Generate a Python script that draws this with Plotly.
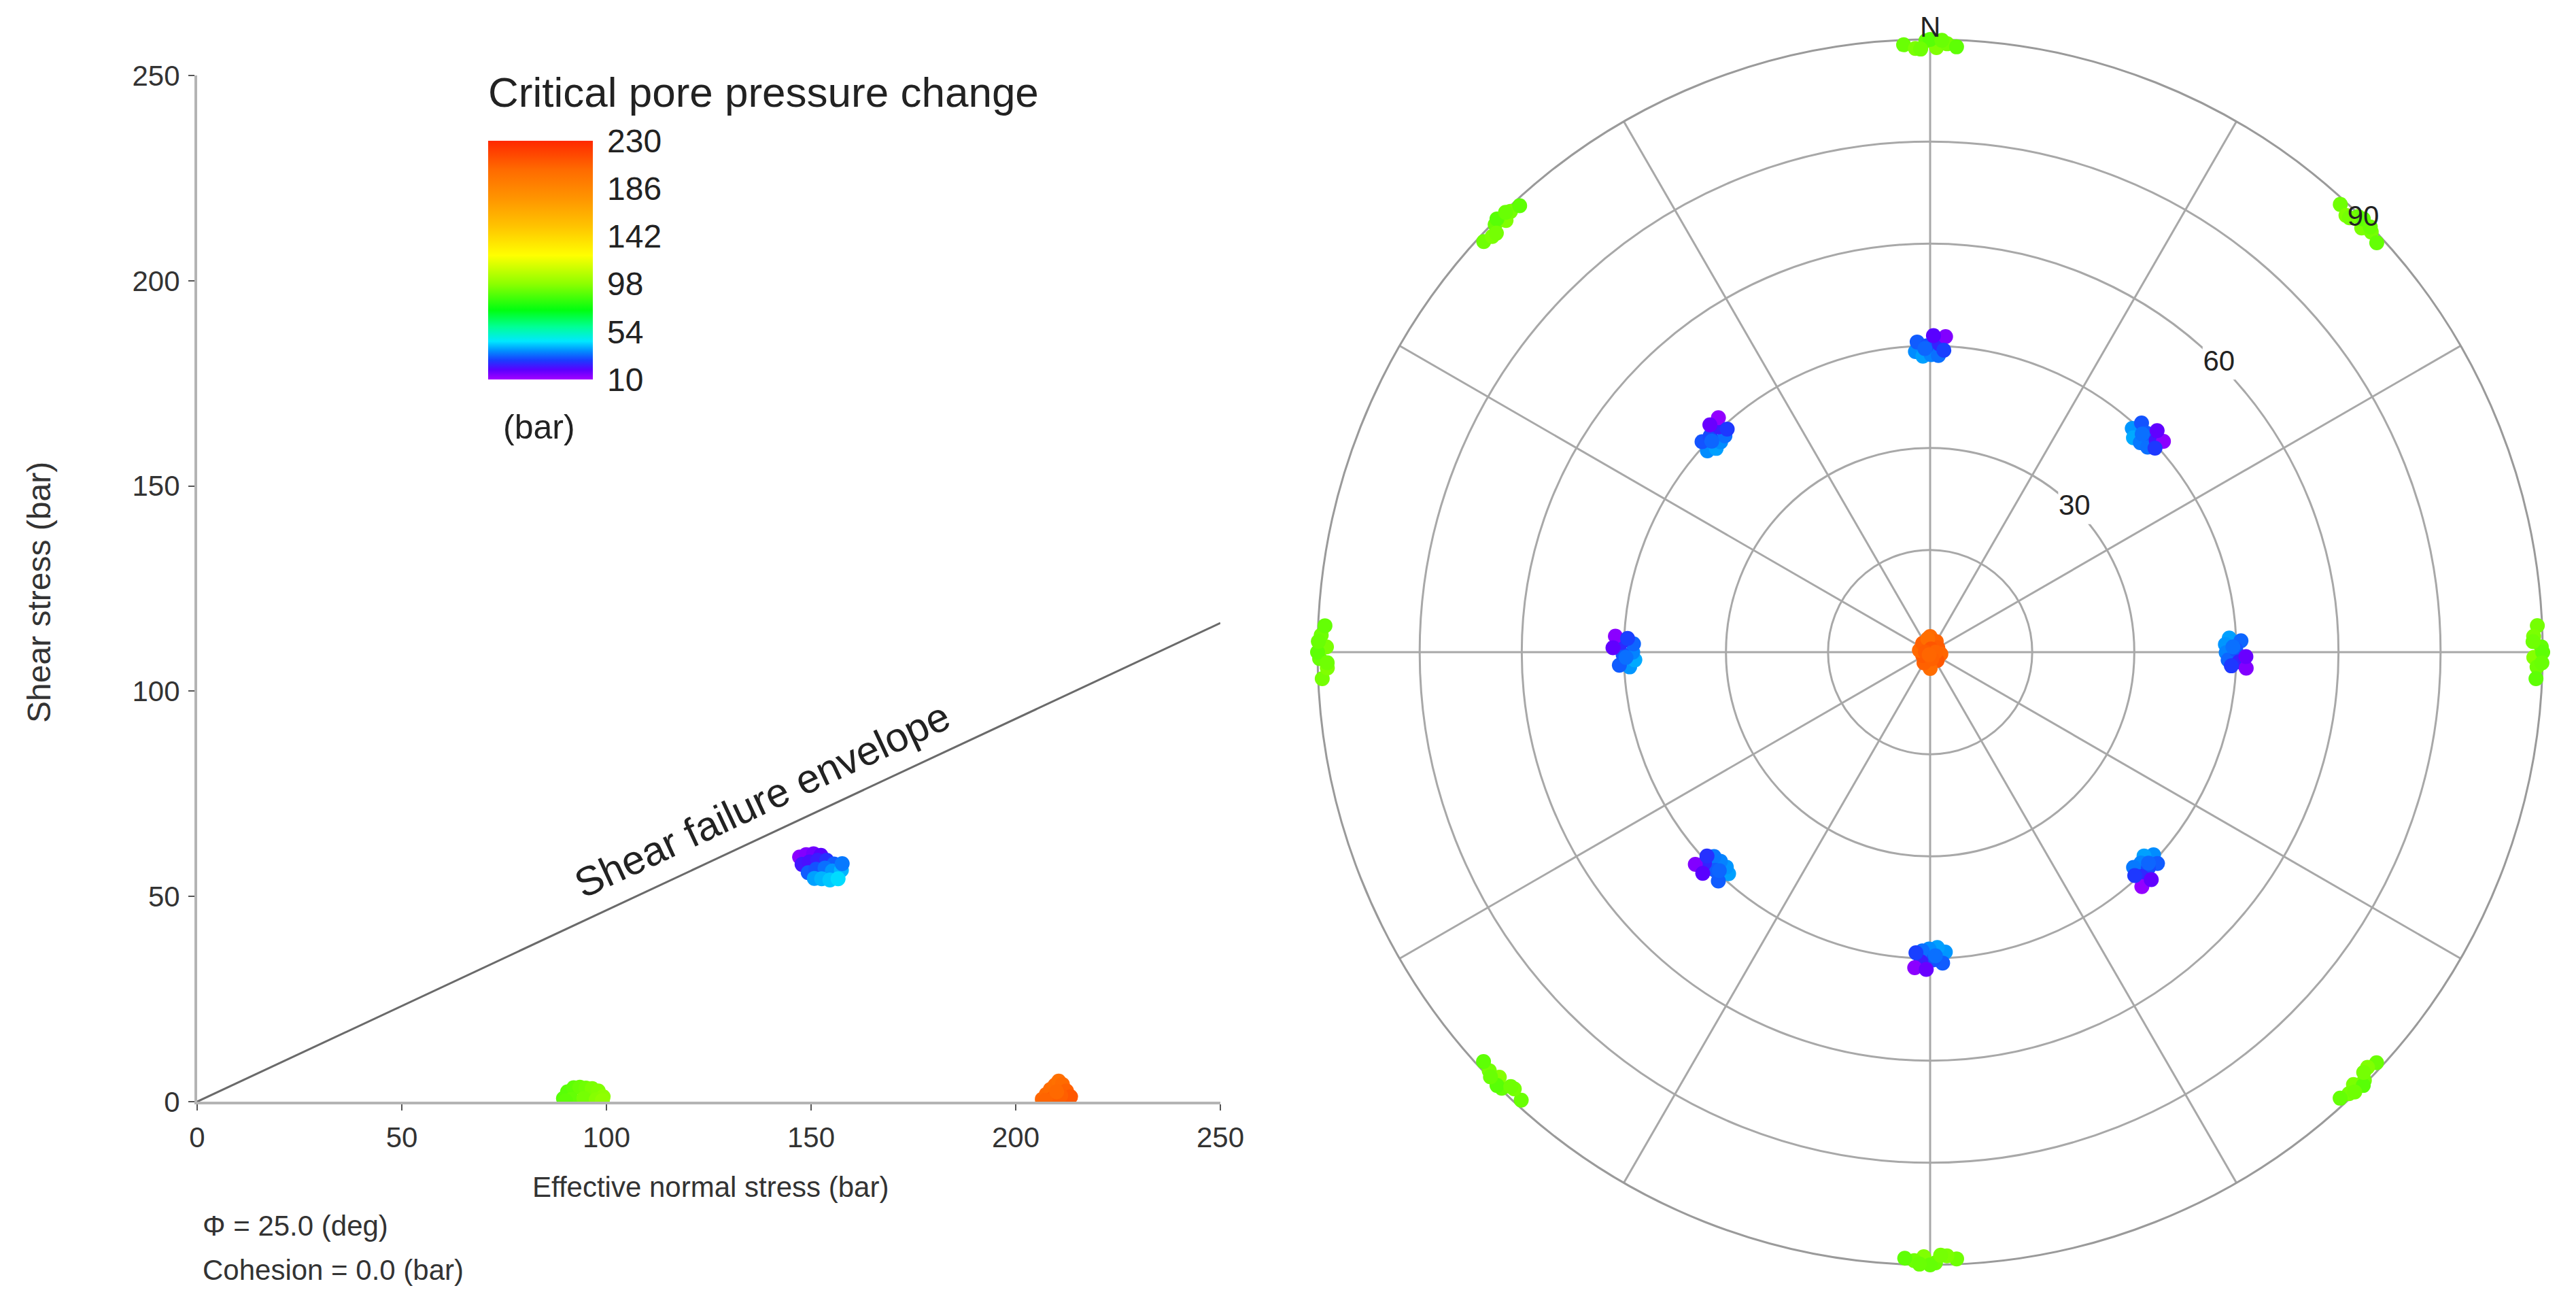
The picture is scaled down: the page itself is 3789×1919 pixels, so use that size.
import plotly.graph_objects as go

W, H = 3789, 1919
FONT = "Liberation Sans, Arial, sans-serif"

# ---------------- data ----------------
cbar_ticks = [10, 54, 98, 142, 186, 230]
x_ticks = [0, 50, 100, 150, 200, 250]
y_ticks = [0, 50, 100, 150, 200, 250]

envelope_x = [0, 250]
envelope_y = [0, 116.6]   # tan(25 deg) * 250

# Mohr diagram points (effective normal stress, shear stress, critical pore pressure change)
green_sn = [89.5, 90.5, 92.0, 93.5, 95.0, 96.5, 98.0, 99.2, 91.5, 94.5, 97.5, 99.0, 90.0]
green_tau = [0.8, 2.4, 3.4, 3.5, 3.3, 3.2, 2.6, 1.2, 0.6, 0.8, 0.5, 0.3, 0.2]
green_val = [89, 89, 90, 92, 93, 95, 96, 98, 91, 94, 97, 99, 90]

blue_sn = [147.2, 148.8, 150.6, 152.4, 147.8, 149.6, 151.6, 153.8, 155.6, 149.3,
           151.2, 153.4, 155.2, 157.4, 150.8, 152.6, 154.6, 156.6, 157.6]
blue_tau = [59.6, 60.2, 60.4, 60.0, 57.8, 58.4, 58.8, 58.8, 57.9, 55.8,
            56.6, 56.9, 56.2, 56.4, 54.4, 54.3, 54.0, 54.3, 58.0]
blue_val = [13, 14, 16, 19, 22, 21, 23, 26, 31, 31,
            30, 33, 37, 40, 38, 40, 42, 44, 34]

orange_sn = [206.5, 207.5, 208.5, 209.6, 210.5, 211.4, 212.4, 213.4, 209.0, 211.0, 207.2, 210.0]
orange_tau = [0.6, 1.8, 3.0, 4.0, 5.0, 4.2, 2.6, 1.2, 0.8, 1.5, 0.3, 2.4]
orange_val = [205, 204, 203, 202, 200, 203, 207, 211, 208, 208, 206, 204]

# Stereonet points (azimuth deg, dip deg, critical pore pressure change)
center_az = [0, 30, 60, 100, 140, 180, 210, 245, 280, 320, 350, 15, 90, 270, 165, 200]
center_dip = [2.3, 1.8, 1.3, 1.6, 1.6, 2.4, 1.8, 1.2, 1.6, 1.7, 2.0, 0.5, 0.8, 0.7, 1.0, 0.4]
center_val = [203, 206, 209, 205, 211, 202, 207, 210, 204, 208, 201, 212, 206, 209, 207, 205]

inner_az = [
    357.2, 358.6, 0.2, 1.6, 357.6, 359.4, 1.7, 2.8, 0.6, 2.6, 359.0,
    42.1, 43.5, 45.1, 46.7, 42.7, 44.6, 46.9, 47.9, 45.7, 47.8, 44.2,
    87.3, 88.5, 90.1, 91.5, 87.9, 89.5, 91.8, 92.9, 90.8, 92.6, 89.0,
    132.2, 133.6, 135.0, 136.6, 132.9, 134.7, 136.7, 137.9, 135.8, 137.5, 134.0,
    177.1, 178.6, 180.2, 181.5, 177.7, 179.4, 181.7, 182.8, 180.7, 182.7, 179.0,
    222.3, 223.5, 225.1, 226.6, 222.8, 224.6, 226.9, 227.9, 225.8, 227.6, 224.0,
    267.2, 268.5, 270.0, 271.6, 267.6, 269.5, 271.8, 272.9, 270.8, 272.6, 269.0,
    312.1, 313.6, 315.1, 316.5, 312.7, 314.5, 316.8, 317.9, 315.9, 317.7, 314.0,
]
inner_dip = [
    44.2, 43.5, 43.7, 43.6, 45.6, 45.0, 45.3, 46.4, 46.5, 44.4, 44.6,
    44.3, 43.4, 43.6, 43.9, 45.8, 45.2, 45.5, 46.2, 46.6, 44.6, 44.7,
    44.0, 43.4, 43.5, 43.8, 45.7, 44.9, 45.4, 46.5, 46.4, 44.3, 44.5,
    44.3, 43.4, 43.8, 43.5, 45.6, 45.1, 45.3, 46.4, 46.6, 44.5, 44.6,
    44.1, 43.4, 43.6, 43.9, 45.7, 45.2, 45.5, 46.4, 46.6, 44.2, 44.6,
    44.0, 43.5, 43.5, 43.7, 45.8, 45.0, 45.4, 46.5, 46.6, 44.4, 44.6,
    44.2, 43.4, 43.7, 43.6, 45.7, 45.1, 45.4, 46.3, 46.6, 44.5, 44.7,
    44.1, 43.4, 43.6, 43.8, 45.6, 45.3, 45.4, 46.4, 46.5, 44.3, 44.6,
]
inner_val = [
    36, 38, 35, 33, 31, 30, 24, 14, 19, 28, 32,
    37, 39, 34, 33, 30, 31, 22, 13, 18, 27, 33,
    38, 37, 35, 32, 32, 30, 24, 14, 17, 27, 33,
    36, 38, 35, 34, 31, 29, 25, 12, 18, 27, 32,
    37, 38, 36, 33, 31, 30, 23, 13, 17, 28, 33,
    38, 37, 35, 34, 31, 31, 24, 14, 19, 26, 32,
    37, 39, 35, 32, 31, 30, 25, 13, 18, 28, 33,
    36, 38, 36, 33, 30, 29, 23, 12, 17, 27, 32,
]

outer_az = [
    357.5, 358.6, 359.6, 0.6, 1.6, 2.5, 0.0, 359.1, 1.1,
    42.5, 43.6, 44.5, 45.5, 46.4, 47.5, 45.0, 44.0, 46.0,
    87.5, 88.5, 89.5, 90.5, 91.4, 92.5, 90.0, 89.0, 91.0,
    132.6, 133.5, 134.6, 135.6, 136.5, 137.4, 135.0, 134.1, 136.0,
    177.5, 178.4, 179.5, 180.6, 181.5, 182.4, 180.0, 179.0, 181.0,
    222.4, 223.6, 224.5, 225.4, 226.5, 227.5, 225.0, 224.0, 226.0,
    267.5, 268.5, 269.4, 270.5, 271.6, 272.5, 270.0, 269.0, 271.0,
    312.6, 313.5, 314.5, 315.5, 316.4, 317.4, 315.0, 314.0, 316.0,
]
outer_dip = [
    89.3, 88.7, 89.8, 88.8, 89.4, 89.0, 90.0, 88.6, 89.9,
    89.2, 88.6, 89.7, 88.9, 89.5, 89.0, 90.0, 88.7, 89.9,
    89.3, 88.7, 89.8, 88.7, 89.2, 89.1, 90.0, 88.6, 89.9,
    89.1, 88.6, 89.6, 88.9, 89.4, 89.0, 90.0, 88.7, 89.8,
    89.2, 88.7, 89.7, 88.8, 89.4, 89.1, 90.0, 88.6, 89.9,
    89.1, 88.6, 89.8, 88.9, 89.3, 89.0, 90.0, 88.7, 89.8,
    89.4, 88.6, 89.7, 88.7, 89.5, 89.0, 90.0, 88.6, 89.9,
    89.1, 88.7, 89.6, 88.9, 89.4, 89.1, 90.0, 88.6, 89.8,
]
outer_val = [
    92, 95, 91, 96, 94, 90, 89, 93, 92,
    93, 96, 92, 95, 94, 91, 90, 94, 92,
    94, 95, 91, 97, 93, 90, 90, 93, 92,
    92, 96, 93, 95, 94, 91, 89, 94, 93,
    93, 95, 92, 96, 93, 90, 91, 94, 92,
    92, 94, 91, 97, 94, 90, 89, 93, 92,
    94, 96, 92, 95, 93, 91, 90, 93, 92,
    93, 95, 92, 96, 94, 90, 89, 94, 92,
]

ring_dips = [15, 30, 45, 60, 75, 90]
spoke_az = list(range(0, 360, 30))
ring_label_r = [30, 60, 90]
ring_label_theta = [45, 45, 45]

# ---------------- style ----------------
colorscale = [
    [0.00, "#a400ff"], [0.04, "#5a00ff"], [0.08, "#1a3cff"], [0.12, "#0090ff"],
    [0.16, "#00e8ff"], [0.22, "#00ff96"], [0.29, "#00ff10"], [0.40, "#8cff00"],
    [0.52, "#ffff00"], [0.64, "#ffc400"], [0.76, "#ff9400"], [0.88, "#ff6a00"],
    [1.00, "#ff2800"],
]
CMIN, CMAX = 10, 230

# stereonet geometry in page pixels (center and outer radius)
PC_X, PC_Y, PR = 2839, 959, 901


def px_x(p):
    return p / W


def px_y(p):
    return 1 - p / H


fig = go.Figure()

# shear failure envelope
fig.add_trace(go.Scatter(x=envelope_x, y=envelope_y, mode="lines",
                         line=dict(color="#6a6a6a", width=3), showlegend=False,
                         hoverinfo="skip"))

mohr_sets = [(green_sn, green_tau, green_val), (orange_sn, orange_tau, orange_val),
             (blue_sn, blue_tau, blue_val)]
for i, (sx, sy, sv) in enumerate(mohr_sets):
    marker = dict(size=22, color=sv, colorscale=colorscale, cmin=CMIN, cmax=CMAX,
                  line=dict(width=0), opacity=1)
    if i == 0:
        marker["showscale"] = True
        marker["colorbar"] = dict(
            x=px_x(718), xanchor="left", xref="paper",
            y=px_y(382.5), yanchor="middle", yref="paper",
            len=351 / H, lenmode="fraction",
            thickness=154, thicknessmode="pixels",
            xpad=0, ypad=0, outlinewidth=0,
            tickvals=cbar_ticks, ticktext=[str(t) for t in cbar_ticks],
            ticks="outside", ticklen=12, tickcolor="rgba(0,0,0,0)",
            tickfont=dict(family=FONT, size=48, color="#222222"),
        )
    else:
        marker["showscale"] = False
    fig.add_trace(go.Scatter(x=sx, y=sy, mode="markers", marker=marker,
                             showlegend=False, xaxis="x", yaxis="y"))

# stereonet: masks behind ring labels 30 / 60
fig.add_trace(go.Scatterpolar(r=ring_label_r[:2], theta=ring_label_theta[:2], mode="markers",
                              marker=dict(symbol="square", size=48, color="white",
                                          line=dict(width=0)),
                              showlegend=False, hoverinfo="skip", subplot="polar"))

for az, dip, val in [(center_az, center_dip, center_val),
                     (inner_az, inner_dip, inner_val),
                     (outer_az, outer_dip, outer_val)]:
    fig.add_trace(go.Scatterpolar(r=dip, theta=az, mode="markers",
                                  marker=dict(size=22, color=val, colorscale=colorscale,
                                              cmin=CMIN, cmax=CMAX, showscale=False,
                                              line=dict(width=0)),
                                  cliponaxis=False, showlegend=False, subplot="polar"))

fig.add_trace(go.Scatterpolar(r=ring_label_r, theta=ring_label_theta, mode="text",
                              text=[str(v) for v in ring_label_r],
                              textfont=dict(family=FONT, size=42, color="#222222"),
                              cliponaxis=False, showlegend=False, hoverinfo="skip",
                              subplot="polar"))

axis_common = dict(showgrid=False, zeroline=False, showline=True,
                   linecolor="#b4b4b4", linewidth=4,
                   ticks="outside", ticklen=9, tickwidth=2, tickcolor="#555555",
                   tickfont=dict(family=FONT, size=42, color="#333333"),
                   range=[0, 250])

fig.update_layout(
    width=W, height=H,
    margin=dict(l=0, r=0, t=0, b=0, pad=0, autoexpand=False),
    paper_bgcolor="white", plot_bgcolor="white",
    showlegend=False,
    xaxis=dict(domain=[px_x(290), px_x(1795)], tickvals=x_ticks,
               anchor="y", ticklabelstandoff=4, **axis_common),
    yaxis=dict(domain=[px_y(1620), px_y(111)], tickvals=y_ticks,
               anchor="x", ticklabelstandoff=4, **axis_common),
    polar=dict(
        domain=dict(x=[px_x(PC_X - PR), px_x(PC_X + PR)],
                    y=[px_y(PC_Y + PR), px_y(PC_Y - PR)]),
        bgcolor="white",
        angularaxis=dict(rotation=90, direction="clockwise",
                         tickmode="array", tickvals=spoke_az,
                         ticks="", showticklabels=False,
                         showgrid=True, gridcolor="#a8a8a8", gridwidth=3,
                         showline=True, linecolor="#9a9a9a", linewidth=3,
                         layer="below traces"),
        radialaxis=dict(range=[0, 90], tickmode="array", tickvals=ring_dips,
                        showticklabels=False, ticks="", showline=False,
                        showgrid=True, gridcolor="#a8a8a8", gridwidth=3,
                        layer="below traces"),
    ),
)

ann_font = dict(family=FONT, size=42, color="#333333")
annotations = [
    dict(text="Effective normal stress (bar)", x=px_x(1045), y=px_y(1745),
         xanchor="center", yanchor="middle", font=ann_font),
    dict(text="Shear stress (bar)", x=px_x(57), y=px_y(871), textangle=-90,
         xanchor="center", yanchor="middle",
         font=dict(family=FONT, size=48, color="#333333")),
    dict(text="Φ = 25.0 (deg)", x=px_x(296), y=px_y(1802),
         xanchor="left", yanchor="middle", font=ann_font),
    dict(text="Cohesion = 0.0 (bar)", x=px_x(296), y=px_y(1867),
         xanchor="left", yanchor="middle", font=ann_font),
    dict(text="Critical pore pressure change", x=px_x(716), y=px_y(135),
         xanchor="left", yanchor="middle",
         font=dict(family=FONT, size=62, color="#222222")),
    dict(text="(bar)", x=px_x(738), y=px_y(628),
         xanchor="left", yanchor="middle",
         font=dict(family=FONT, size=50, color="#222222")),
    dict(text="N", x=px_x(PC_X), y=px_y(40),
         xanchor="center", yanchor="middle",
         font=dict(family=FONT, size=42, color="#222222")),
]
for a in annotations:
    a.update(xref="paper", yref="paper", showarrow=False)
annotations.append(dict(text="Shear failure envelope", x=138, y=73.5, xref="x", yref="y",
                        textangle=-25, showarrow=False, xanchor="center", yanchor="middle",
                        font=dict(family=FONT, size=60, color="#222222")))
fig.update_layout(annotations=annotations)

fig.write_html("out.html",
               config={"displayModeBar": False},
               post_script="document.body.style.margin='0px';document.body.style.padding='0px';")
